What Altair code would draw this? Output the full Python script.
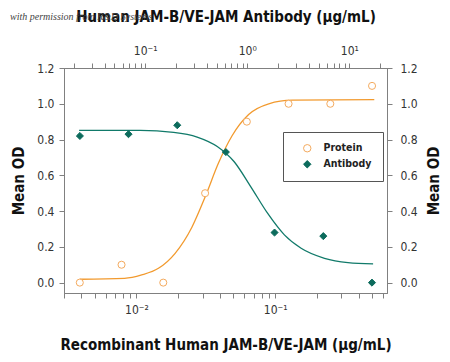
import altair as alt
import pandas as pd

# Protein (bottom axis, ug/mL)
protein_x = [0.0039, 0.0078, 0.0156, 0.03125, 0.0625, 0.125, 0.25, 0.5]
protein_y = [0.00, 0.10, 0.00, 0.50, 0.90, 1.00, 1.00, 1.10]
# fitted curve
protein_curve_x = [0.0039, 0.0082, 0.0109, 0.0144, 0.0190, 0.0251, 0.0313, 0.0391, 0.0488, 0.0644, 0.0899, 0.133, 0.519]
protein_curve_y = [0.019, 0.024, 0.043, 0.080, 0.164, 0.310, 0.480, 0.670, 0.820, 0.940, 1.000, 1.020, 1.023]

# Antibody (top axis, ug/mL)
antibody_x = [0.0229, 0.0686, 0.206, 0.617, 1.85, 5.56, 16.67]
antibody_y = [0.82, 0.83, 0.88, 0.73, 0.28, 0.26, 0.00]
antibody_curve_x = [0.0225, 0.0893, 0.190, 0.323, 0.508, 0.741, 1.08, 1.58, 2.31, 3.37, 5.71, 9.7, 17.1]
antibody_curve_y = [0.851, 0.851, 0.840, 0.814, 0.761, 0.677, 0.537, 0.388, 0.267, 0.192, 0.136, 0.112, 0.105]

bottom_ticks = [0.003, 0.004, 0.005, 0.006, 0.007, 0.008, 0.009,
                0.01, 0.02, 0.03, 0.04, 0.05, 0.06, 0.07, 0.08, 0.09,
                0.1, 0.2, 0.3, 0.4, 0.5, 0.6]
top_ticks = [0.02, 0.03, 0.04, 0.05, 0.06, 0.07, 0.08, 0.09,
             0.1, 0.2, 0.3, 0.4, 0.5, 0.6, 0.7, 0.8, 0.9,
             1, 2, 3, 4, 5, 6, 7, 8, 9, 10, 20]
y_ticks = [0.0, 0.2, 0.4, 0.6, 0.8, 1.0, 1.2]

series_names = ["Protein", "Antibody"]
ORANGE = "#F29A2E"
ORANGE_PT = "#F4AA5E"
TEAL = "#117A6A"
TEAL_PT = "#0C6B5C"
FONT = "'DejaVu Sans Condensed', 'Liberation Sans Narrow', 'Roboto Condensed', Roboto, sans-serif"

p_pts = pd.DataFrame({"x": protein_x, "y": protein_y, "series": "Protein"})
p_cur = pd.DataFrame({"x": protein_curve_x, "y": protein_curve_y})
a_pts = pd.DataFrame({"x": antibody_x, "y": antibody_y, "series": "Antibody"})
a_cur = pd.DataFrame({"x": antibody_curve_x, "y": antibody_curve_y})

label_expr = ("abs(log(datum.value)/LN10 - round(log(datum.value)/LN10)) > 0.001 ? '' : "
              "(round(log(datum.value)/LN10) == -2 ? '10\u207b\u00b2' : "
              "(round(log(datum.value)/LN10) == -1 ? '10\u207b\u00b9' : "
              "(round(log(datum.value)/LN10) == 0 ? '10\u2070' : '10\u00b9')))")

ydom = [-0.058, 1.2]

xb = alt.X("x:Q", scale=alt.Scale(type="log", domain=[0.003, 0.641], nice=False),
           axis=alt.Axis(orient="bottom", values=bottom_ticks, labelExpr=label_expr,
                         title="Recombinant Human JAM-B/VE-JAM (\u03bcg/mL)",
                         titleY=51, titleBaseline="middle", grid=False,
                         tickSize=5, labelPadding=6, labelFlush=False, labelOverlap=False))
xt = alt.X("x:Q", scale=alt.Scale(type="log", domain=[0.016, 23.4], nice=False),
           axis=alt.Axis(orient="top", values=top_ticks, labelExpr=label_expr,
                         title="Human JAM-B/VE-JAM Antibody (\u03bcg/mL)",
                         titleY=-52, titleBaseline="middle", grid=False,
                         tickSize=5, labelPadding=6, labelFlush=False, labelOverlap=False))
yl = alt.Y("y:Q", scale=alt.Scale(domain=ydom, nice=False, zero=False),
           axis=alt.Axis(orient="left", values=y_ticks, format=".1f", title="Mean OD",
                         titleX=-46, titleBaseline="middle", grid=False, tickSize=5, labelPadding=5))
yr = alt.Y("y:Q", scale=alt.Scale(domain=ydom, nice=False, zero=False),
           axis=alt.Axis(orient="right", values=y_ticks, format=".1f", title="Mean OD",
                         titleX=46, titleAngle=270, titleBaseline="middle", grid=False,
                         tickSize=5, labelPadding=8))

shape_scale = alt.Scale(domain=series_names, range=["circle", "diamond"])
stroke_scale = alt.Scale(domain=series_names, range=[ORANGE_PT, TEAL_PT])
fill_scale = alt.Scale(domain=series_names, range=["#ffffff", TEAL_PT])
legend = alt.Legend(title=None, orient="none", legendX=219, legendY=64,
                    padding=11, symbolOffset=8, labelOffset=11, rowPadding=4,
                    strokeColor="#555555", fillColor="#ffffff",
                    labelFont=FONT, labelFontSize=10.5, labelFontWeight="bold",
                    labelColor="#222222", symbolSize=55, symbolStrokeWidth=1)

def pts(df):
    return alt.Chart(df).mark_point(strokeWidth=1, opacity=1, size=50).encode(
        shape=alt.Shape("series:N", scale=shape_scale, legend=legend),
        stroke=alt.Stroke("series:N", scale=stroke_scale, legend=legend),
        fill=alt.Fill("series:N", scale=fill_scale, legend=legend),
    )

protein_layer = alt.layer(
    alt.Chart(p_cur).mark_line(color=ORANGE, strokeWidth=1.3, interpolate="monotone").encode(x=xb, y=yl),
    pts(p_pts).encode(x=xb, y=yl),
)
antibody_layer = alt.layer(
    alt.Chart(a_cur).mark_line(color=TEAL, strokeWidth=1.3, interpolate="monotone").encode(x=xt, y=yr),
    pts(a_pts).encode(x=xt, y=yr),
)

chart = alt.layer(protein_layer, antibody_layer).resolve_scale(
    x="independent", y="independent"
).properties(
    width=323, height=225,
    autosize=alt.AutoSizeParams(type="none"),
    padding={"left": 56, "top": 60, "right": 55, "bottom": 60},
    title=alt.TitleParams("with permission from R&D Systems", anchor="start", frame="group",
                          dx=-54, dy=0, fontSize=10, fontStyle="italic", fontWeight="normal",
                          font="'Liberation Serif', serif", color="#444444", offset=-13),
).configure_view(
    stroke="#808080", strokeWidth=1
).configure_axis(
    labelFont=FONT, labelFontSize=12, labelColor="#333333",
    titleFont=FONT, titleFontSize=15, titleFontWeight="bold", titleColor="#111111",
    domainColor="#808080", tickColor="#808080", domainWidth=1, tickWidth=1
)

chart.save("out.html", embed_options={"renderer": "svg", "actions": False})
